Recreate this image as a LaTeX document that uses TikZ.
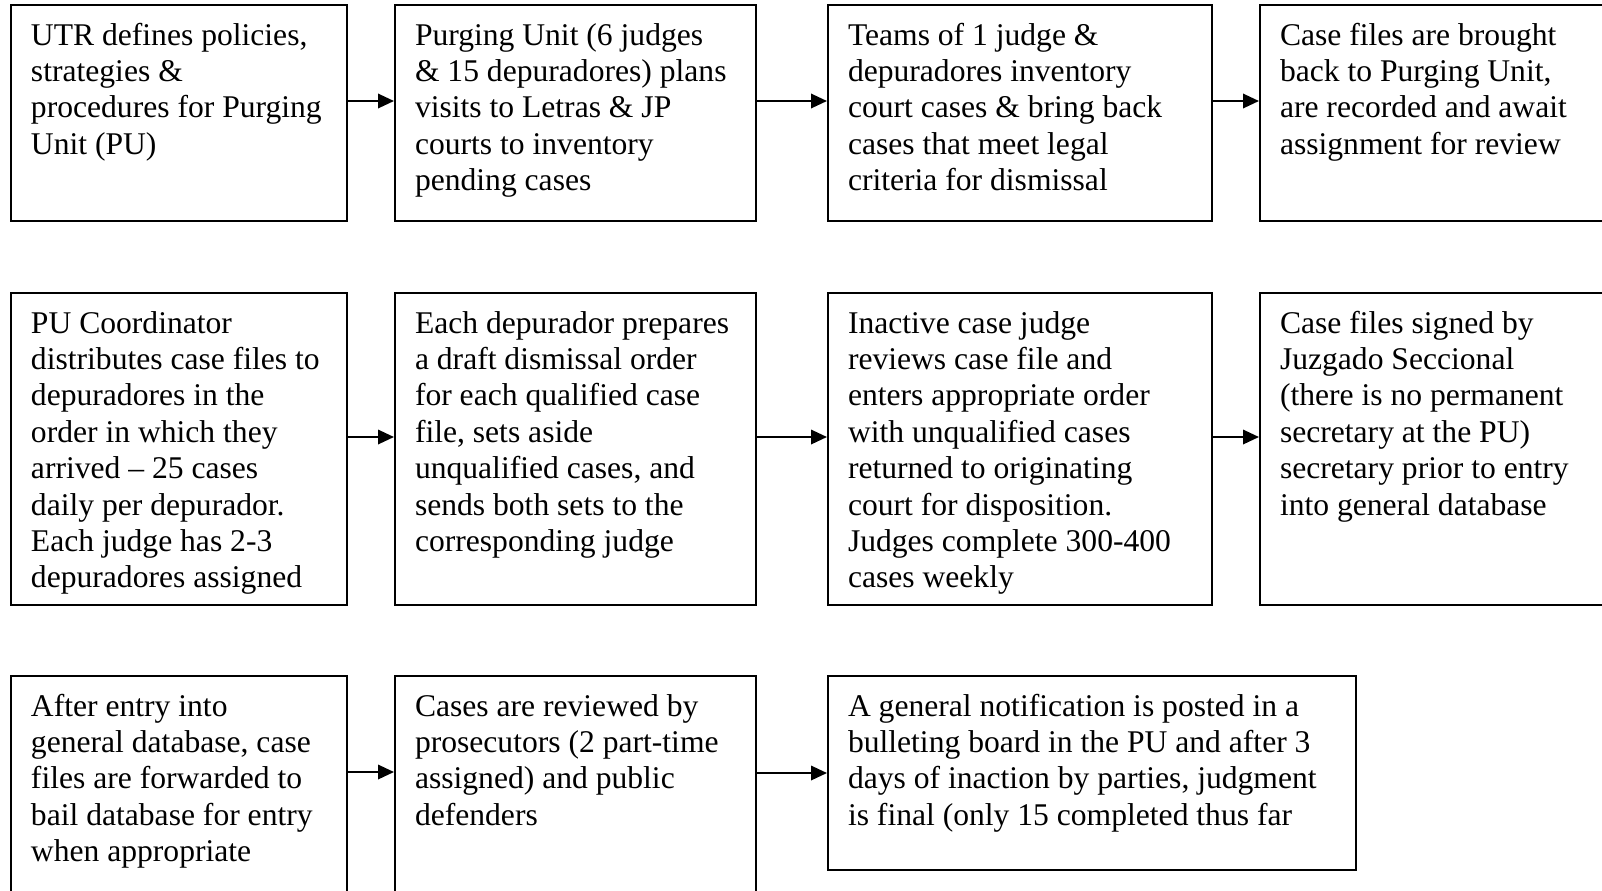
\documentclass[tikz,border=0pt]{standalone}
\usepackage{fontspec}
\setmainfont{Liberation Serif}
\usetikzlibrary{arrows.meta}

% text block of a stage: width, height, lines
\newcommand{\stagetext}[3]{\parbox[t][#2][t]{#1}{\raggedright\strut #3}}

\begin{document}
\begin{tikzpicture}[x=1pt,y=1pt,
    stage/.style={draw,line width=1pt,anchor=north west,inner xsep=10pt,inner ysep=7.3pt,
      font=\fontsize{15.8}{18.2}\selectfont},
    flow/.style={line width=1.1pt,-{Triangle[length=8pt,width=7.2pt]}}]

\useasboundingbox (0,0) rectangle (801,-445);

% first row
\node[stage] (utr) at (5,-2) {\stagetext{148pt}{93.4pt}{UTR defines policies,\\strategies \&\\procedures for Purging\\Unit (PU)}};
\node[stage] (plan) at (197,-2) {\stagetext{160.5pt}{93.4pt}{Purging Unit (6 judges\\\& 15 depuradores) plans\\visits to Letras \& JP\\courts to inventory\\pending cases}};
\node[stage] (inventory) at (413.5,-2) {\stagetext{172pt}{93.4pt}{Teams of 1 judge \&\\depuradores inventory\\court cases \& bring back\\cases that meet legal\\criteria for dismissal}};
\node[stage] (record) at (629.5,-2) {\stagetext{180pt}{93.4pt}{Case files are brought\\back to Purging Unit,\\are recorded and await\\assignment for review}};

% second row
\node[stage] (distribute) at (5,-146) {\stagetext{148pt}{141.4pt}{PU Coordinator\\distributes case files to\\depuradores in the\\order in which they\\arrived -- 25 cases\\daily per depurador.\\Each judge has 2-3\\depuradores assigned}};
\node[stage] (draft) at (197,-146) {\stagetext{160.5pt}{141.4pt}{Each depurador prepares\\a draft dismissal order\\for each qualified case\\file, sets aside\\unqualified cases, and\\sends both sets to the\\corresponding judge}};
\node[stage] (review) at (413.5,-146) {\stagetext{172pt}{141.4pt}{Inactive case judge\\reviews case file and\\enters appropriate order\\with unqualified cases\\returned to originating\\court for disposition.\\Judges complete 300-400\\cases weekly}};
\node[stage] (sign) at (629.5,-146) {\stagetext{180pt}{141.4pt}{Case files signed by\\Juzgado Seccional\\(there is no permanent\\secretary at the PU)\\secretary prior to entry\\into general database}};

% third row
\node[stage] (forward) at (5,-337.5) {\stagetext{148pt}{115.4pt}{After entry into\\general database, case\\files are forwarded to\\bail database for entry\\when appropriate}};
\node[stage] (prosecute) at (197,-337.5) {\stagetext{160.5pt}{115.4pt}{Cases are reviewed by\\prosecutors (2 part-time\\assigned) and public\\defenders}};
\node[stage] (notify) at (413.5,-337.5) {\stagetext{244pt}{82.4pt}{A general notification is posted in a\\bulleting board in the PU and after 3\\days of inaction by parties, judgment\\is final (only 15 completed thus far}};

% arrows
\draw[flow] ([yshift=6pt]utr.east) -- ([yshift=6pt]plan.west);
\draw[flow] ([yshift=6pt]plan.east) -- ([yshift=6pt]inventory.west);
\draw[flow] ([yshift=6pt]inventory.east) -- ([yshift=6pt]record.west);
\draw[flow] ([yshift=6pt]distribute.east) -- ([yshift=6pt]draft.west);
\draw[flow] ([yshift=6pt]draft.east) -- ([yshift=6pt]review.west);
\draw[flow] ([yshift=6pt]review.east) -- ([yshift=6pt]sign.west);
\draw[flow] ([yshift=17pt]forward.east) -- ([yshift=17pt]prosecute.west);
\draw[flow] (notify.west -| prosecute.east) -- (notify.west);

\end{tikzpicture}
\end{document}
